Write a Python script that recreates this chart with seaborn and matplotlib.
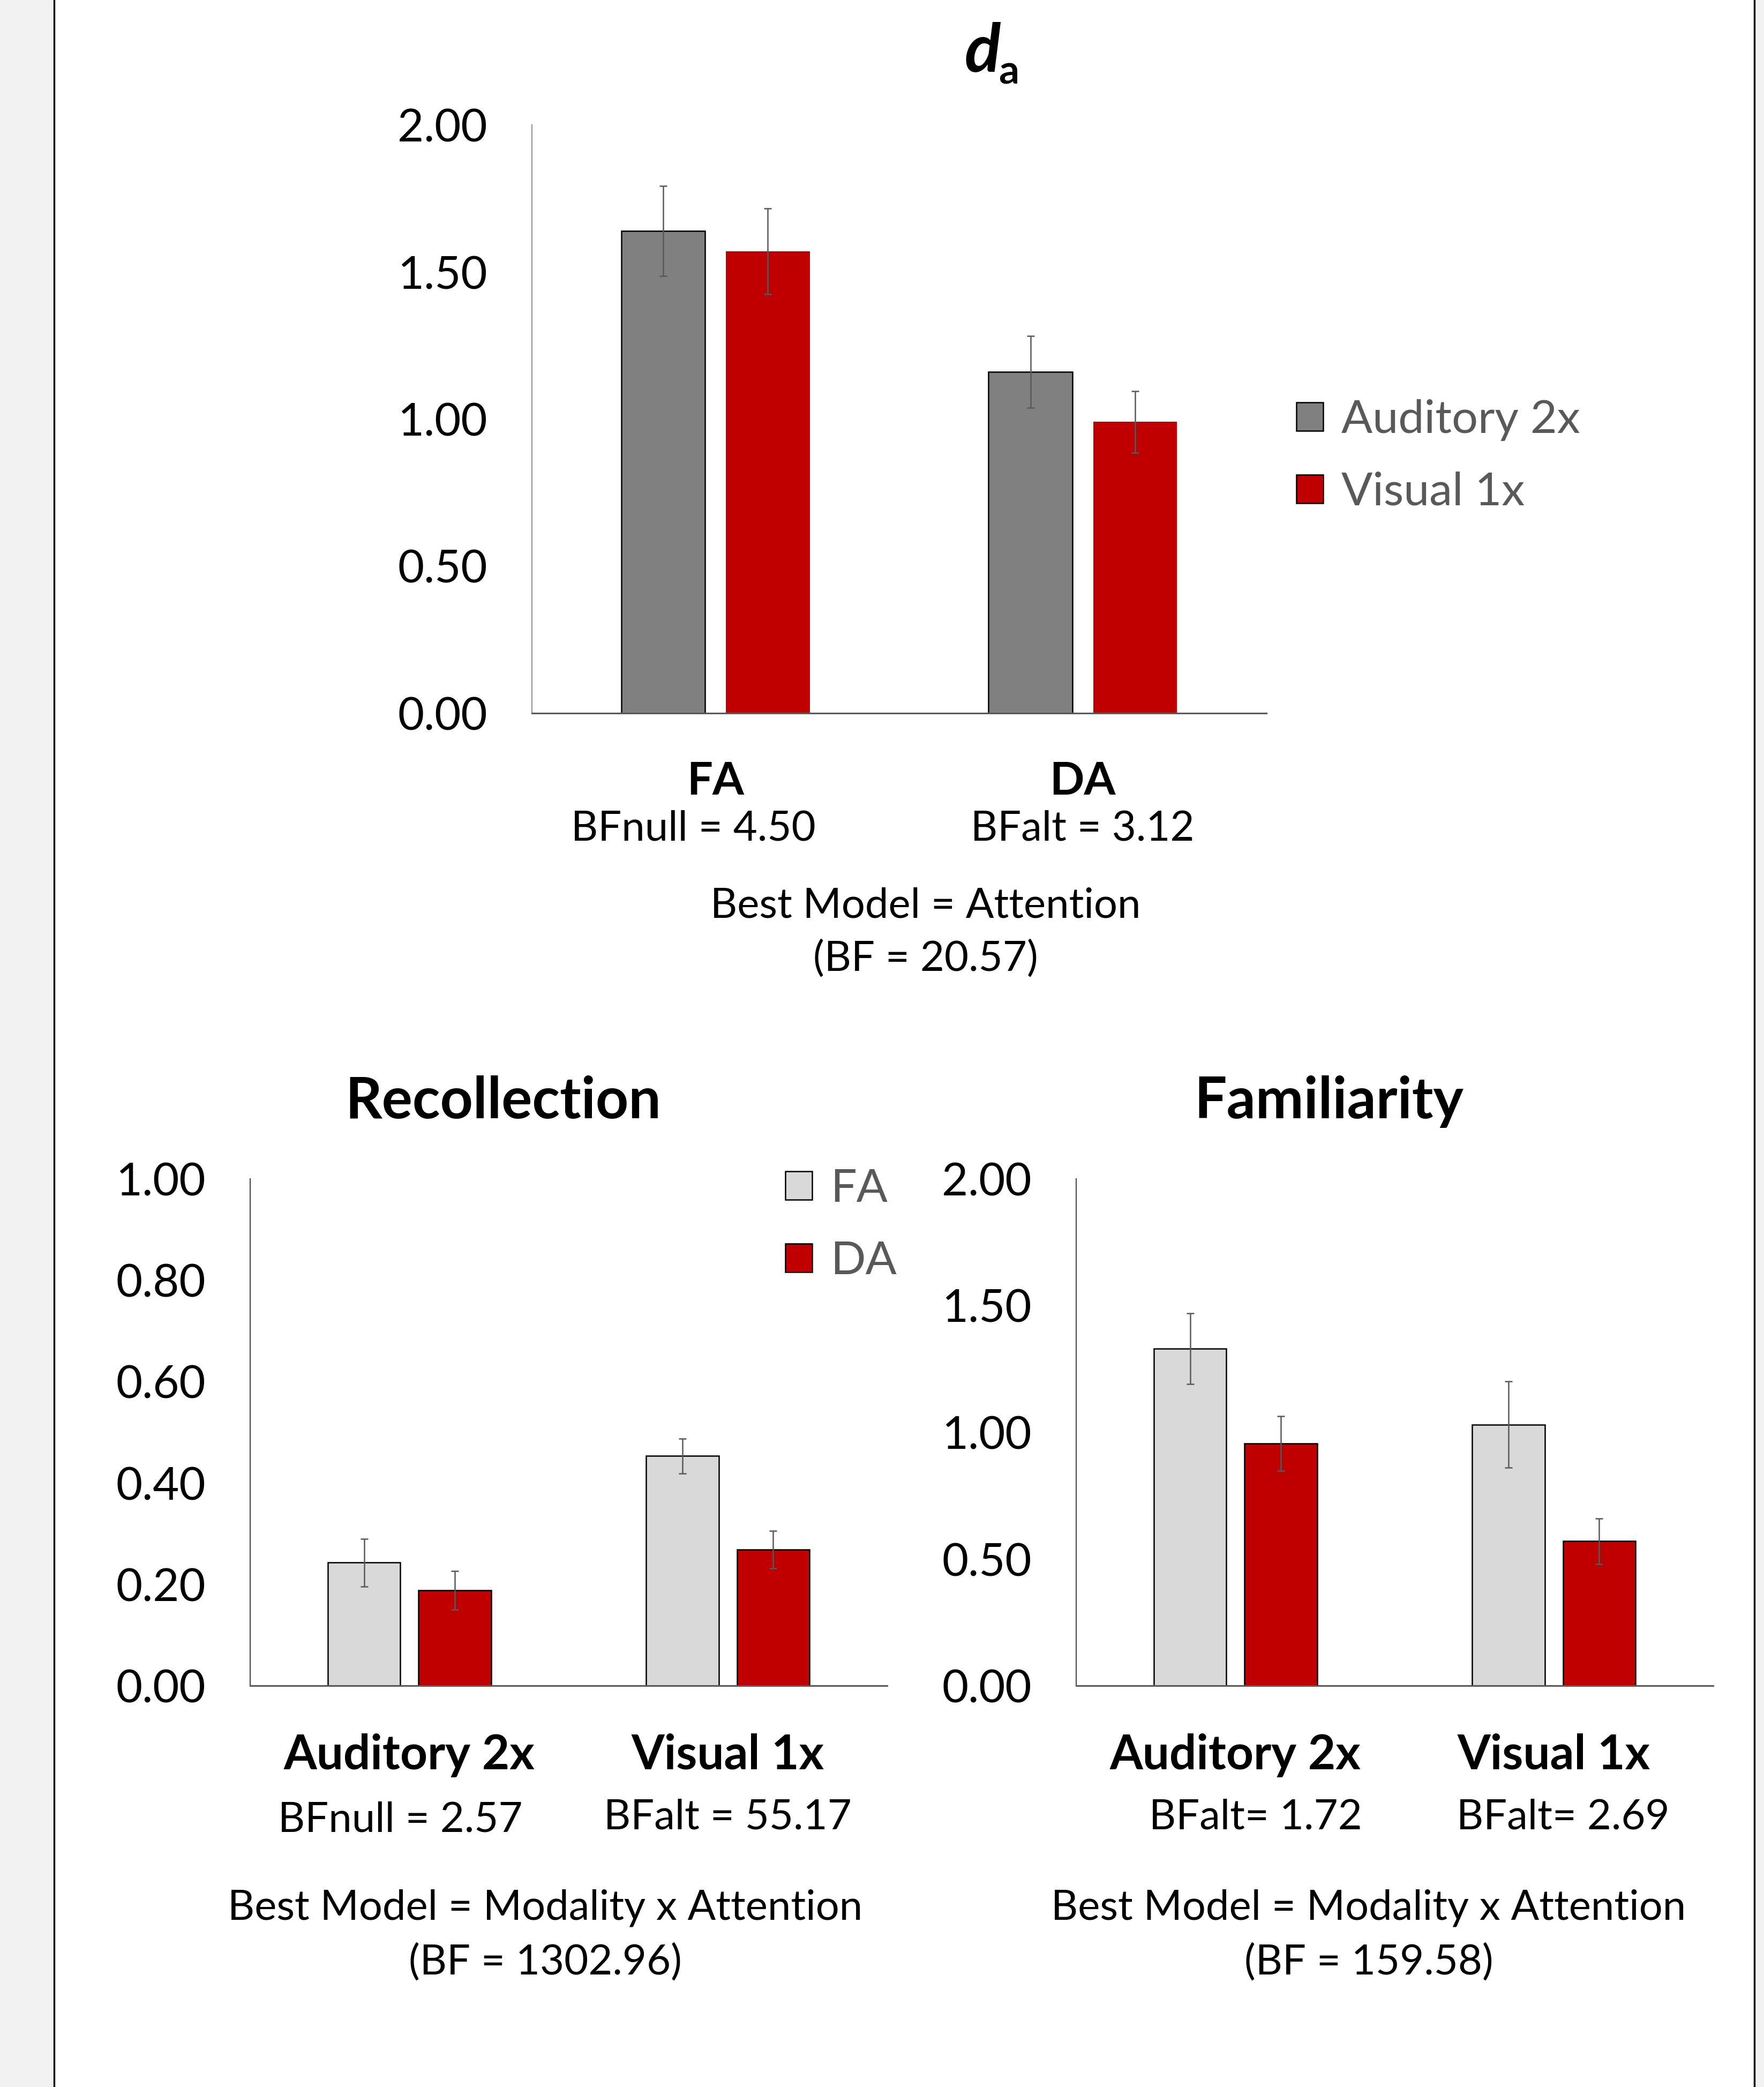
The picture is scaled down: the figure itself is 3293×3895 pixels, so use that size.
import numpy as np
import pandas as pd
import matplotlib
matplotlib.use('Agg')
import matplotlib.pyplot as plt
from matplotlib.lines import Line2D
from matplotlib.patches import Rectangle
import seaborn as sns

# ---- data ----
da_conditions = ['FA', 'DA']
da_groups = ['Auditory 2x', 'Visual 1x']
da_auditory = [1.64, 1.16]
da_visual = [1.57, 0.99]
da_auditory_err = [0.153, 0.122]
da_visual_err = [0.145, 0.104]
da_bf = ['BFnull = 4.50', 'BFalt = 3.12']
da_model = ['Best Model = Attention', '(BF = 20.57)']

mem_groups = ['Auditory 2x', 'Visual 1x']
mem_conditions = ['FA', 'DA']
rec_fa = [0.243, 0.453]
rec_da = [0.188, 0.268]
rec_fa_err = [0.047, 0.034]
rec_da_err = [0.038, 0.037]
rec_bf = ['BFnull = 2.57', 'BFalt = 55.17']
rec_model = ['Best Model = Modality x Attention', '(BF = 1302.96)']

fam_fa = [1.33, 1.03]
fam_da = [0.955, 0.57]
fam_fa_err = [0.140, 0.170]
fam_da_err = [0.108, 0.090]
fam_bf = ['BFalt= 1.72', 'BFalt= 2.69']
fam_model = ['Best Model = Modality x Attention', '(BF = 159.58)']

GRAY = '#808080'
LIGHT = '#d9d9d9'
RED = '#c00000'
ERR = '#595959'

sns.set_theme(style='white')
plt.rcParams['font.family'] = ['Lato', 'DejaVu Sans']

W, H = 3293, 3895
fig = plt.figure(figsize=(W / 100, H / 100), dpi=100)
fig.patch.set_facecolor('#f2f2f2')
fig.add_artist(Rectangle((103 / W, 0), (3273 - 103) / W, 1, transform=fig.transFigure,
                         facecolor='white', edgecolor='none', zorder=-5))
for xp in (101, 3275):
    fig.add_artist(Line2D([xp / W, xp / W], [0, 1], transform=fig.transFigure,
                          color='black', lw=2.4))


def px_axes(l, r, t, b):
    return fig.add_axes([l / W, 1 - b / H, (r - l) / W, (b - t) / H])


def long_df(cats, names, a, b):
    return pd.DataFrame({
        'cat': cats * 2,
        'series': [names[0]] * len(cats) + [names[1]] * len(cats),
        'value': a + b,
    })


def draw(ax, df, order, hue_order, colors, errs, ymax, step, catsize,
         edge_second=True, left_color='#404040'):
    sns.barplot(data=df, x='cat', y='value', hue='series', order=order, hue_order=hue_order,
                palette=colors, saturation=1, width=0.57, gap=0.2, errorbar=None,
                edgecolor='black', linewidth=1.8, ax=ax, legend=True)
    if not edge_second:
        for p in ax.containers[1]:
            p.set_linewidth(0)
    for cont, err in zip(ax.containers, errs):
        xs = [p.get_x() + p.get_width() / 2 for p in cont]
        ys = [p.get_height() for p in cont]
        ax.errorbar(xs, ys, yerr=err, fmt='none', ecolor=ERR, elinewidth=1.8,
                    capsize=5, capthick=1.8, zorder=5)
    ax.set_xlim(-0.5, 1.5)
    ax.set_ylim(0, ymax)
    ax.set_yticks(np.arange(0, ymax + 1e-9, step))
    ax.set_yticklabels([f'{v:.2f}' for v in np.arange(0, ymax + 1e-9, step)])
    ax.set_xlabel('')
    ax.set_ylabel('')
    for s in ('top', 'right'):
        ax.spines[s].set_visible(False)
    ax.spines['bottom'].set_color(ERR)
    ax.spines['bottom'].set_linewidth(2.2)
    ax.spines['left'].set_color(left_color)
    ax.spines['left'].set_linewidth(1.4)
    ax.tick_params(axis='y', length=0, pad=60, labelsize=61, labelcolor='black')
    ax.tick_params(axis='x', length=0, pad=64, labelsize=catsize, labelcolor='black')
    for t in ax.get_xticklabels():
        t.set_fontweight('bold')
    handles, labels = ax.get_legend_handles_labels()
    ax.get_legend().remove()
    return handles, labels


def ftext(x, y, s, **kw):
    fig.text(x / W, 1 - y / H, s, ha='center', va='center', color='black', **kw)


legend_kw = dict(loc='upper left', frameon=False, fontsize=62, handlelength=0.58,
                 handleheight=0.58, handletextpad=0.4, labelspacing=0.66,
                 borderpad=0, borderaxespad=0, labelcolor='#595959')

# ---- top: d_a ----
ax1 = px_axes(993, 2364, 233, 1331)
df1 = long_df(da_conditions, da_groups, da_auditory, da_visual)
h, l = draw(ax1, df1, da_conditions, da_groups, [GRAY, RED],
            [da_auditory_err, da_visual_err], 2.0, 0.5, 61,
            edge_second=False, left_color='#8c8c8c')
fig.legend(h, l, bbox_to_anchor=(2420 / W, 1 - 745 / H), **legend_kw)
ftext(1834, 97, 'd', fontsize=90, fontweight='bold', fontstyle='italic')
ftext(1883, 135, 'a', fontsize=54, fontweight='bold')
ftext(1294, 1547, da_bf[0], fontsize=56)
ftext(2021, 1547, da_bf[1], fontsize=56)
ftext(1728, 1691, da_model[0], fontsize=56)
ftext(1728, 1790, da_model[1], fontsize=56)

# ---- bottom left: Recollection ----
ax2 = px_axes(467, 1656, 2200, 3146)
df2 = long_df(mem_groups, mem_conditions, rec_fa, rec_da)
h, l = draw(ax2, df2, mem_groups, mem_conditions, [LIGHT, RED],
            [rec_fa_err, rec_da_err], 1.0, 0.2, 64)
fig.legend(h, l, bbox_to_anchor=(1466 / W, 1 - 2180 / H), **legend_kw)
ftext(939, 2056, 'Recollection', fontsize=77, fontweight='bold')
ftext(747, 3397, rec_bf[0], fontsize=56)
ftext(1358, 3392, rec_bf[1], fontsize=56)
ftext(1018, 3561, rec_model[0], fontsize=56)
ftext(1018, 3663, rec_model[1], fontsize=56)

# ---- bottom right: Familiarity ----
ax3 = px_axes(2009, 3198, 2200, 3146)
df3 = long_df(mem_groups, mem_conditions, fam_fa, fam_da)
draw(ax3, df3, mem_groups, mem_conditions, [LIGHT, RED],
     [fam_fa_err, fam_da_err], 2.0, 0.5, 64)
ftext(2481, 2056, 'Familiarity', fontsize=77, fontweight='bold')
ftext(2344, 3392, fam_bf[0], fontsize=56)
ftext(2918, 3392, fam_bf[1], fontsize=56)
ftext(2555, 3561, fam_model[0], fontsize=56)
ftext(2555, 3663, fam_model[1], fontsize=56)

fig.savefig('out.png', dpi=100, facecolor=fig.get_facecolor())
